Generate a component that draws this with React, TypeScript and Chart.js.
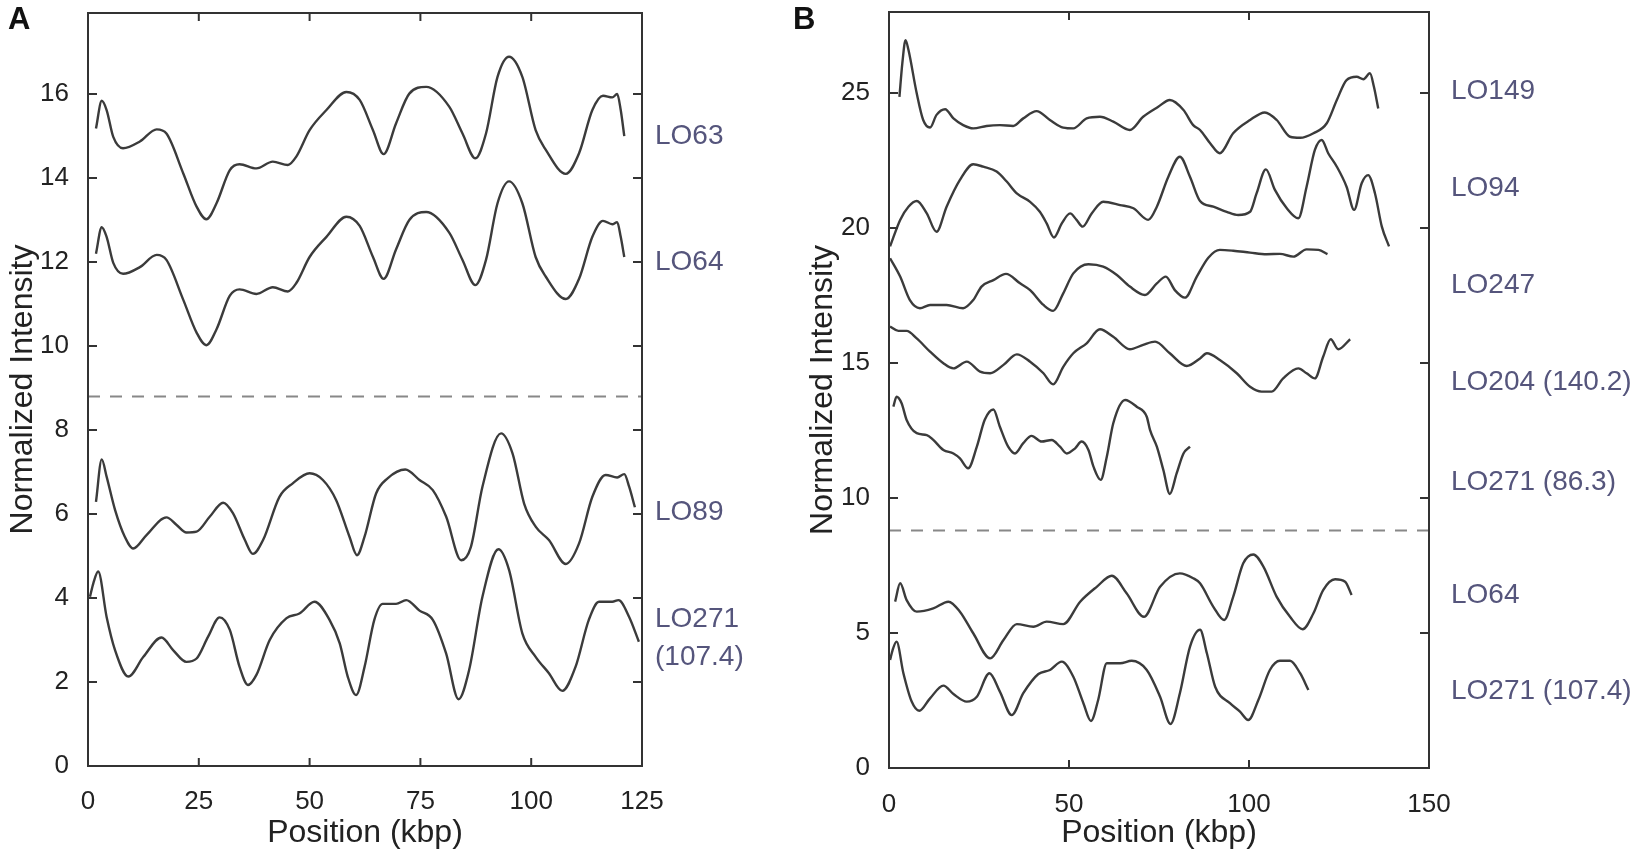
import { useEffect, useRef } from "react";
import { Chart, registerables } from "chart.js";

Chart.register(...registerables);

type Pt = [number, number];

// Panel A traces: [position (kbp), normalized intensity]
const A_LO63: Pt[] = [
  [1.8, 15.18], [3.1, 15.84], [4.2, 15.62], [5.7, 14.98], [7.9, 14.71], [11.7, 14.87], [15.5, 15.16],
  [17.7, 15.06], [21.5, 14.11], [24.5, 13.32], [26.7, 13.02], [29, 13.4], [32, 14.19], [34.2, 14.33],
  [38, 14.23], [41.7, 14.39], [45.1, 14.31], [47, 14.51], [50, 15.14], [53.8, 15.62], [58.3, 16.05],
  [61.3, 15.86], [64.3, 15.14], [66.7, 14.57], [69.5, 15.3], [72.5, 16.01], [76.3, 16.17], [81.5, 15.7],
  [84.5, 15.06], [87.4, 14.47], [89.8, 15.06], [92.4, 16.41], [95, 16.89], [98, 16.41], [101, 15.14],
  [103.3, 14.67], [107.8, 14.1], [110.8, 14.59], [113.8, 15.62], [116.2, 15.96], [118.3, 15.92],
  [119.4, 16.0], [120.2, 15.62], [121, 15.0],
];
const A_LO64: Pt[] = [
  [1.8, 12.2], [3.1, 12.83], [4.2, 12.6], [5.7, 11.98], [7.9, 11.72], [11.7, 11.88], [15.5, 12.17],
  [17.7, 12.05], [21.5, 11.1], [24.5, 10.32], [26.7, 10.02], [29, 10.4], [32, 11.2], [34.2, 11.35],
  [38, 11.24], [41.7, 11.4], [45.1, 11.3], [47, 11.5], [50, 12.12], [53.8, 12.6], [58.3, 13.08],
  [61.3, 12.86], [64.3, 12.12], [66.7, 11.6], [69.5, 12.3], [72.5, 13.0], [76.3, 13.19], [81.5, 12.7],
  [84.5, 12.05], [87.4, 11.45], [89.8, 12.05], [92.4, 13.4], [95, 13.92], [98, 13.4], [101, 12.12],
  [103.3, 11.65], [107.8, 11.12], [110.8, 11.6], [113.8, 12.6], [116.2, 12.98], [118.3, 12.9],
  [119.4, 12.95], [120.2, 12.6], [121, 12.12],
];
const A_LO89: Pt[] = [
  [1.8, 6.29], [3.1, 7.3], [4.2, 6.89], [6.1, 6.1], [8.3, 5.46], [10.2, 5.18], [13.2, 5.5], [17.7, 5.92],
  [20, 5.74], [22.2, 5.56], [24.5, 5.58], [27.5, 5.94], [30.5, 6.27], [32.7, 6.02], [35.4, 5.38],
  [37.2, 5.05], [39.5, 5.38], [43.2, 6.41], [46.2, 6.73], [50, 6.97], [53, 6.81], [56, 6.33], [59, 5.46],
  [60.7, 5.02], [62.4, 5.46], [65, 6.49], [67.6, 6.85], [71.6, 7.06], [74.8, 6.81], [77.8, 6.57],
  [80.8, 5.94], [84.2, 4.9], [86.4, 5.22], [89, 6.65], [93.2, 7.92], [95.8, 7.44], [98.4, 6.25],
  [101, 5.7], [104, 5.38], [107.8, 4.81], [110.8, 5.3], [113.8, 6.41], [116.8, 6.93], [119.4, 6.87],
  [121, 6.95], [122.1, 6.65], [123.4, 6.16],
];
const A_LO271: Pt[] = [
  [0.45, 4.03], [1.2, 4.35], [2.3, 4.63], [4.2, 3.55], [6.1, 2.76], [9.1, 2.13], [12.5, 2.6], [16.6, 3.06],
  [19.2, 2.76], [22.2, 2.48], [24.5, 2.56], [27.1, 3.08], [29.7, 3.54], [32, 3.24], [34.2, 2.36],
  [36.1, 1.93], [38, 2.17], [41, 3.0], [44.8, 3.52], [47.7, 3.63], [51.1, 3.91], [54.5, 3.48],
  [56.8, 2.92], [58.6, 2.13], [60.5, 1.69], [62.4, 2.36], [64.6, 3.48], [66.5, 3.86], [69.5, 3.86],
  [71.8, 3.95], [74.8, 3.7], [77.8, 3.48], [80.8, 2.68], [83.6, 1.59], [86, 2.29], [89, 4.03],
  [92.6, 5.16], [95, 4.67], [98, 3.16], [101, 2.6], [104, 2.21], [107, 1.79], [110, 2.36], [113, 3.48],
  [115.3, 3.91], [118.3, 3.91], [119.7, 3.95], [122.1, 3.55], [124.3, 2.96],
];

// Panel B traces
const B_LO149: Pt[] = [
  [2.9, 24.86], [3.7, 26.1], [4.6, 26.96], [5.4, 26.6], [7.7, 24.99], [9.5, 24.0], [11.4, 23.72],
  [13.2, 24.19], [15.6, 24.4], [17.9, 24.06], [20.6, 23.81], [23.4, 23.69], [27.1, 23.78], [30.8, 23.81],
  [34.5, 23.78], [37.3, 24.06], [41, 24.33], [44.7, 24.0], [48.4, 23.72], [51.2, 23.69], [54.9, 24.06],
  [58.6, 24.12], [62.3, 23.94], [66.9, 23.63], [70.6, 24.12], [74.8, 24.49], [78, 24.74], [81.8, 24.37],
  [84.5, 23.81], [86.4, 23.63], [89.2, 23.14], [91.9, 22.77], [95.6, 23.51], [100.3, 24.0],
  [104.4, 24.28], [107.7, 24.0], [111.4, 23.38], [114.2, 23.34], [117.9, 23.51], [121.6, 23.88],
  [124.4, 24.74], [127.1, 25.48], [129.9, 25.6], [131.8, 25.51], [133.6, 25.73], [134.7, 25.23],
  [135.9, 24.43],
];
const B_LO94: Pt[] = [
  [0.3, 19.32], [3.1, 20.3], [5.4, 20.79], [7.7, 21.0], [10.5, 20.54], [13.2, 19.86], [16, 20.79],
  [19.7, 21.78], [23.4, 22.36], [26.2, 22.27], [29.9, 22.09], [32.7, 21.72], [35.5, 21.28], [39.2, 20.97],
  [41.9, 20.6], [43.8, 20.17], [45.8, 19.65], [48, 20.17], [50.3, 20.54], [52.1, 20.3], [53.8, 20.05],
  [56.3, 20.54], [59.5, 20.97], [64.2, 20.85], [67.9, 20.73], [72, 20.3], [74.4, 20.79], [77.6, 21.9],
  [80.8, 22.64], [83.6, 21.9], [86.4, 21.0], [90.1, 20.79], [93.8, 20.6], [97, 20.48], [100.3, 20.6],
  [102.1, 21.28], [104.7, 22.17], [107.2, 21.41], [110.5, 20.73], [113.7, 20.36], [116, 21.53],
  [118.3, 22.89], [120.2, 23.26], [122, 22.77], [124.4, 22.27], [127.1, 21.53], [129.2, 20.67],
  [131.3, 21.66], [133.1, 21.96], [135, 21.28], [136.9, 20.05], [138.9, 19.32],
];
const B_LO247: Pt[] = [
  [0.3, 18.88], [3.1, 18.2], [5.8, 17.33], [8.6, 17.03], [11.4, 17.15], [16, 17.15], [20.6, 17.03],
  [23.4, 17.33], [25.7, 17.83], [29, 18.07], [32.5, 18.3], [36.4, 17.95], [39.2, 17.7], [42.9, 17.15],
  [45.6, 16.93], [48.4, 17.58], [51.2, 18.32], [55.4, 18.66], [59.5, 18.57], [63.3, 18.26], [66.9, 17.83],
  [71.1, 17.52], [74.4, 17.95], [76.9, 18.2], [79.4, 17.7], [82.2, 17.42], [85.5, 18.2], [88.7, 18.9],
  [91.9, 19.19], [95.6, 19.16], [100.3, 19.09], [104.9, 19.03], [108.6, 19.04], [112.3, 18.94],
  [116, 19.21], [119.3, 19.19], [121.8, 19.03],
];
const B_LO204: Pt[] = [
  [0.3, 16.35], [2.6, 16.19], [4.9, 16.19], [7.7, 15.91], [11.4, 15.42], [15.1, 14.99], [17.9, 14.8],
  [21.6, 15.05], [25.3, 14.68], [28.1, 14.62], [31.8, 14.93], [35.5, 15.32], [39.2, 15.05], [42.9, 14.62],
  [45.6, 14.21], [48.4, 14.86], [51.2, 15.36], [54.9, 15.73], [58.6, 16.25], [62.3, 15.97], [66.9, 15.51],
  [70.6, 15.67], [73.9, 15.79], [78, 15.36], [82.7, 14.89], [86.4, 15.17], [88.3, 15.36], [91.9, 15.11],
  [96.6, 14.62], [100.3, 14.12], [103.5, 13.94], [106.3, 13.94], [109.5, 14.43], [113.7, 14.8],
  [116, 14.62], [118.3, 14.43], [120.6, 15.23], [122.7, 15.88], [124.8, 15.51], [128.1, 15.88],
];
const B_LO271_86: Pt[] = [
  [1.2, 13.38], [2.1, 13.75], [3.5, 13.51], [4.9, 12.89], [7.7, 12.4], [10.5, 12.33], [12.3, 12.15],
  [15.1, 11.78], [17.9, 11.65], [19.7, 11.47], [22, 11.1], [24.4, 11.9], [26.6, 12.9], [29, 13.28],
  [30.8, 12.64], [33.1, 11.9], [35, 11.65], [37.3, 12.03], [39.6, 12.3], [42.4, 12.09], [45.2, 12.15],
  [47.5, 11.9], [49.4, 11.65], [51.7, 11.84], [53.5, 12.09], [55.4, 11.78], [56.8, 11.16], [58.8, 10.67],
  [60.5, 11.53], [62.3, 12.77], [65.6, 13.63], [68.8, 13.38], [71.6, 13.01], [72.5, 12.52], [74.4, 11.9],
  [76.2, 11.04], [78, 10.15], [79.9, 10.91], [81.8, 11.65], [83.6, 11.9],
];
const B_LO64: Pt[] = [
  [1.7, 6.16], [3.1, 6.84], [4.9, 6.22], [7.7, 5.79], [12.3, 5.91], [16.5, 6.16], [19.7, 5.79],
  [23.4, 4.99], [28.1, 4.06], [31.8, 4.74], [35.5, 5.33], [40.1, 5.23], [43.8, 5.42], [48.4, 5.33],
  [53.1, 6.16], [57.7, 6.71], [61.9, 7.12], [66, 6.47], [70.8, 5.6], [75.3, 6.71], [80.8, 7.21],
  [84.5, 7.03], [86.4, 6.84], [90.1, 5.97], [93.1, 5.48], [95.6, 6.34], [98.4, 7.58], [101.2, 7.91],
  [104, 7.46], [107.7, 6.34], [111.4, 5.6], [114.9, 5.14], [117.9, 5.73], [120.6, 6.59], [123.9, 6.99],
  [126.7, 6.9], [128.5, 6.41],
];
const B_LO271_107: Pt[] = [
  [0.3, 4.0], [1, 4.37], [2.1, 4.68], [4, 3.51], [6.3, 2.46], [8.4, 2.12], [11.4, 2.58], [15.1, 3.05],
  [17.9, 2.74], [21.6, 2.46], [24.4, 2.64], [27.9, 3.51], [30.8, 2.83], [34.1, 1.96], [37.3, 2.77],
  [41.5, 3.48], [44.7, 3.63], [48, 3.94], [51.2, 3.38], [54, 2.4], [56.1, 1.74], [58.1, 2.52], [60.5, 3.88],
  [64.2, 3.88], [67.4, 3.97], [71.6, 3.63], [75.3, 2.64], [78.2, 1.63], [80.8, 2.77], [83.6, 4.49],
  [86.4, 5.12], [88.3, 4.25], [90.6, 3.01], [94.7, 2.4], [97.5, 2.09], [99.8, 1.78], [102.6, 2.52],
  [105.8, 3.63], [108.6, 3.97], [111.4, 3.97], [114.2, 3.51], [116.5, 2.89],
];

// axes
const A_X_TICKS = [0, 25, 50, 75, 100, 125];
const A_Y_TICKS = [0, 2, 4, 6, 8, 10, 12, 14, 16];
const B_X_TICKS = [0, 50, 100, 150];
const B_Y_TICKS = [0, 5, 10, 15, 20, 25];
const A_RANGE = { xMax: 125, yMax: 17.93 };
const B_RANGE = { xMax: 150, yMax: 28 };
const DIVIDER = 8.8;

// trace names, placed level with their trace on the right
const A_NAMES = [
  { text: "LO63", y: 15.0 },
  { text: "LO64", y: 12.0 },
  { text: "LO89", y: 6.03 },
  { text: "LO271", y: 3.5 },
  { text: "(107.4)", y: 2.6 },
];
const B_NAMES = [
  { text: "LO149", y: 25.08 },
  { text: "LO94", y: 21.47 },
  { text: "LO247", y: 17.89 },
  { text: "LO204 (140.2)", y: 14.27 },
  { text: "LO271 (86.3)", y: 10.6 },
  { text: "LO64", y: 6.41 },
  { text: "LO271 (107.4)", y: 2.83 },
];

const FONT = "'Liberation Sans', Arial, Helvetica, sans-serif";
const INK = "#3b3b3b";

const framePlugin = {
  id: "frame",
  afterDraw(chart: any, _args: any, opts: any) {
    const { ctx, chartArea: a, scales } = chart;
    ctx.save();
    ctx.strokeStyle = "#333";
    ctx.lineWidth = 2;
    ctx.strokeRect(a.left, a.top, a.right - a.left, a.bottom - a.top);
    ctx.beginPath();
    for (const t of scales.x.ticks) {
      const px = scales.x.getPixelForValue(t.value);
      ctx.moveTo(px, a.bottom);
      ctx.lineTo(px, a.bottom - 8);
      ctx.moveTo(px, a.top);
      ctx.lineTo(px, a.top + 8);
    }
    for (const t of scales.y.ticks) {
      const py = scales.y.getPixelForValue(t.value);
      ctx.moveTo(a.left, py);
      ctx.lineTo(a.left + 9, py);
      ctx.moveTo(a.right, py);
      ctx.lineTo(a.right - 9, py);
    }
    ctx.stroke();
    ctx.fillStyle = "#55557c";
    ctx.font = `28px ${FONT}`;
    ctx.textBaseline = "middle";
    ctx.textAlign = "left";
    for (const n of opts.names) {
      ctx.fillText(n.text, a.right + opts.gap, scales.y.getPixelForValue(n.y));
    }
    ctx.restore();
  },
};

interface PanelSpec {
  left: number;
  width: number;
  traces: Pt[][];
  names: { text: string; y: number }[];
  xTicks: number[];
  yTicks: number[];
  range: { xMax: number; yMax: number };
  pad: { top: number; right: number };
  yAxisWidth: number;
  xAxisHeight: number;
  yTitlePad: number;
  xTickPad: number;
  nameGap: number;
}

const PANEL_A: PanelSpec = {
  left: 0, width: 760,
  traces: [A_LO63, A_LO64, A_LO89, A_LO271],
  names: A_NAMES, xTicks: A_X_TICKS, yTicks: A_Y_TICKS, range: A_RANGE,
  pad: { top: 13, right: 118 }, yAxisWidth: 88, xAxisHeight: 88, yTitlePad: 5, xTickPad: 12, nameGap: 13,
};
const PANEL_B: PanelSpec = {
  left: 760, width: 890,
  traces: [B_LO149, B_LO94, B_LO247, B_LO204, B_LO271_86, B_LO64, B_LO271_107],
  names: B_NAMES, xTicks: B_X_TICKS, yTicks: B_Y_TICKS, range: B_RANGE,
  pad: { top: 12, right: 221 }, yAxisWidth: 129, xAxisHeight: 86, yTitlePad: 45, xTickPad: 13, nameGap: 22,
};

function TracePanel({ spec }: { spec: PanelSpec }) {
  const chartRef = useRef<HTMLCanvasElement>(null);

  useEffect(() => {
    if (!chartRef.current) return;
    const traces = spec.traces.map((pts) => ({
      data: pts.map(([x, y]) => ({ x, y })),
      borderColor: INK,
      borderWidth: 2.4,
      pointRadius: 0,
      cubicInterpolationMode: "monotone" as const,
    }));
    const divider = {
      data: [{ x: 0, y: DIVIDER }, { x: spec.range.xMax, y: DIVIDER }],
      borderColor: "#888",
      borderWidth: 2,
      borderDash: [12, 10],
      pointRadius: 0,
    };
    const tickFont = { family: FONT, size: 26 };
    const titleFont = { family: FONT, size: 32 };

    const chart = new Chart(chartRef.current, {
      type: "line",
      data: { datasets: [...traces, divider] },
      options: {
        animation: false,
        responsive: false,
        layout: { padding: { top: spec.pad.top, right: spec.pad.right, left: 0, bottom: 0 } },
        plugins: {
          legend: { display: false },
          tooltip: { enabled: false },
          frame: { names: spec.names, gap: spec.nameGap },
        } as any,
        scales: {
          x: {
            type: "linear",
            min: 0,
            max: spec.range.xMax,
            grid: { display: false },
            border: { display: false },
            ticks: { font: tickFont, color: "#222", padding: spec.xTickPad, maxRotation: 0 },
            title: { display: true, text: "Position (kbp)", font: titleFont, color: "#222", padding: { top: 0, bottom: 2 } },
            afterBuildTicks: (s: any) => { s.ticks = spec.xTicks.map((v) => ({ value: v })); },
            afterFit: (s: any) => { s.height = spec.xAxisHeight; s.paddingLeft = 0; s.paddingRight = 0; },
          },
          y: {
            type: "linear",
            min: 0,
            max: spec.range.yMax,
            grid: { display: false },
            border: { display: false },
            ticks: { font: tickFont, color: "#222", padding: 11 },
            title: { display: true, text: "Normalized Intensity", font: titleFont, color: "#222", padding: { top: spec.yTitlePad - 1, bottom: 0 } },
            afterBuildTicks: (s: any) => { s.ticks = spec.yTicks.map((v) => ({ value: v })); },
            afterFit: (s: any) => { s.width = spec.yAxisWidth; s.paddingTop = 0; s.paddingBottom = 0; },
          },
        },
      },
      plugins: [framePlugin],
    });

    return () => {
      chart.destroy();
    };
  }, [spec]);

  return (
    <canvas
      ref={chartRef}
      width={spec.width}
      height={854}
      style={{ position: "absolute", left: spec.left, top: 0, width: spec.width, height: 854 }}
    />
  );
}

const letterStyle = {
  position: "absolute" as const,
  top: 3,
  fontFamily: FONT,
  fontWeight: 700,
  fontSize: 31,
  lineHeight: "31px",
  color: "#111",
};

export default function App() {
  return (
    <div style={{ position: "absolute", left: 0, top: 0, width: 1650, height: 854, background: "#fff" }}>
      <TracePanel spec={PANEL_A} />
      <TracePanel spec={PANEL_B} />
      <div style={{ ...letterStyle, left: 8 }}>A</div>
      <div style={{ ...letterStyle, left: 793 }}>B</div>
    </div>
  );
}
